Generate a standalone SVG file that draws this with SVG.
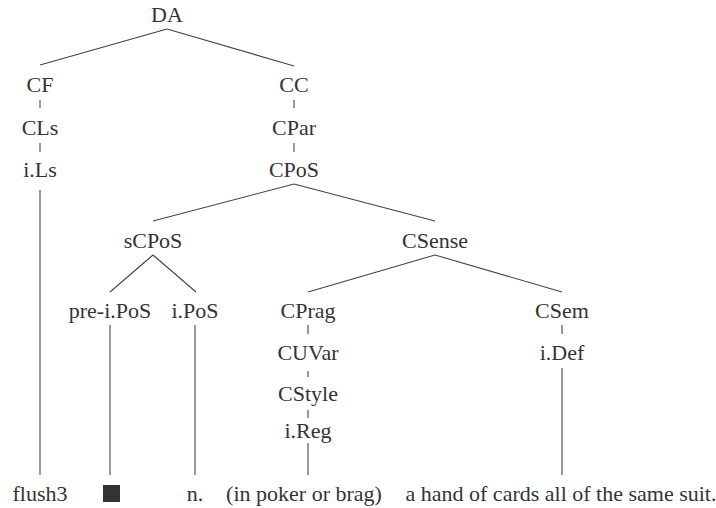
<svg xmlns="http://www.w3.org/2000/svg" width="716" height="508" viewBox="0 0 716 508">
<rect width="716" height="508" fill="#fff"/>
<g id="connectors" stroke="#444" stroke-width="1.1" fill="none">
<line x1="167" y1="29" x2="40" y2="65"/>
<line x1="167" y1="29" x2="294" y2="66"/>
<line x1="40" y1="100" x2="40" y2="108"/>
<line x1="40" y1="143" x2="40" y2="152"/>
<line x1="294" y1="100" x2="294" y2="108"/>
<line x1="294" y1="143" x2="294" y2="152"/>
<line x1="40" y1="190" x2="40" y2="475"/>
<line x1="294" y1="184" x2="153" y2="221"/>
<line x1="294" y1="184" x2="435" y2="221"/>
<line x1="153" y1="255" x2="110" y2="292"/>
<line x1="153" y1="255" x2="196" y2="292"/>
<line x1="435" y1="255" x2="308" y2="292"/>
<line x1="435" y1="255" x2="562" y2="292"/>
<line x1="110" y1="325" x2="110" y2="475"/>
<line x1="195" y1="325" x2="195" y2="475"/>
<line x1="308" y1="325" x2="308" y2="334"/>
<line x1="308" y1="371" x2="308" y2="377"/>
<line x1="308" y1="410" x2="308" y2="418"/>
<line x1="308" y1="443" x2="308" y2="475"/>
<line x1="562" y1="325" x2="562" y2="334"/>
<line x1="562" y1="368" x2="562" y2="475"/>
</g>
<g id="n-DA"><text font-family="Times New Roman" font-size="22" fill="#333" text-anchor="middle" x="167" y="22">DA</text></g>
<g id="n-CF"><text font-family="Times New Roman" font-size="22" fill="#333" text-anchor="middle" x="40" y="92">CF</text></g>
<g id="n-CLs"><text font-family="Times New Roman" font-size="22" fill="#333" text-anchor="middle" x="40" y="135">CLs</text></g>
<g id="n-iLs"><text font-family="Times New Roman" font-size="22" fill="#333" text-anchor="middle" x="40" y="177">i.Ls</text></g>
<g id="n-CC"><text font-family="Times New Roman" font-size="22" fill="#333" text-anchor="middle" x="294" y="92">CC</text></g>
<g id="n-CPar"><text font-family="Times New Roman" font-size="22" fill="#333" text-anchor="middle" x="294" y="135">CPar</text></g>
<g id="n-CPoS"><text font-family="Times New Roman" font-size="22" fill="#333" text-anchor="middle" x="294" y="177">CPoS</text></g>
<g id="n-sCPoS"><text font-family="Times New Roman" font-size="22" fill="#333" text-anchor="middle" x="153" y="248">sCPoS</text></g>
<g id="n-CSense"><text font-family="Times New Roman" font-size="22" fill="#333" text-anchor="middle" x="435" y="248">CSense</text></g>
<g id="n-preiPoS"><text font-family="Times New Roman" font-size="22" fill="#333" text-anchor="middle" x="110" y="318">pre-i.PoS</text></g>
<g id="n-iPoS"><text font-family="Times New Roman" font-size="22" fill="#333" text-anchor="middle" x="195" y="318">i.PoS</text></g>
<g id="n-CPrag"><text font-family="Times New Roman" font-size="22" fill="#333" text-anchor="middle" x="308" y="318">CPrag</text></g>
<g id="n-CUVar"><text font-family="Times New Roman" font-size="22" fill="#333" text-anchor="middle" x="308" y="360">CUVar</text></g>
<g id="n-CStyle"><text font-family="Times New Roman" font-size="22" fill="#333" text-anchor="middle" x="308" y="401">CStyle</text></g>
<g id="n-iReg"><text font-family="Times New Roman" font-size="22" fill="#333" text-anchor="middle" x="308" y="438">i.Reg</text></g>
<g id="n-CSem"><text font-family="Times New Roman" font-size="22" fill="#333" text-anchor="middle" x="562" y="318">CSem</text></g>
<g id="n-iDef"><text font-family="Times New Roman" font-size="22" fill="#333" text-anchor="middle" x="562" y="360">i.Def</text></g>
<g id="n-flush3"><text font-family="Times New Roman" font-size="22" fill="#333" text-anchor="middle" x="40" y="501">flush3</text></g>
<g id="n-square"><rect x="103" y="485" width="17" height="17" fill="#333"/></g>
<g id="n-n"><text font-family="Times New Roman" font-size="22" fill="#333" text-anchor="middle" x="195" y="501">n.</text></g>
<g id="n-poker"><text font-family="Times New Roman" font-size="22" fill="#333" text-anchor="middle" x="304" y="501">(in poker or brag)</text></g>
<g id="n-def"><text font-family="Times New Roman" font-size="22" fill="#333" text-anchor="middle" x="561" y="501">a hand of cards all of the same suit.</text></g>
</svg>
